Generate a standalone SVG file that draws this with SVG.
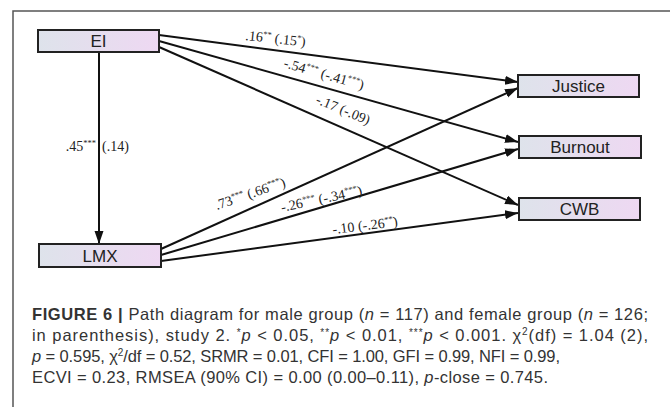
<svg xmlns="http://www.w3.org/2000/svg" width="670" height="407" viewBox="0 0 670 407">
<defs>
<linearGradient id="boxg" x1="0" y1="0" x2="1" y2="0">
<stop offset="0" stop-color="#dee3eb"/>
<stop offset="1" stop-color="#eed8f2"/>
</linearGradient>
<marker id="arr" markerUnits="userSpaceOnUse" markerWidth="14" markerHeight="10" refX="13" refY="4.5" orient="auto">
<path d="M0,0 L13,4.5 L0,9 z" fill="#111"/>
</marker>
<style>
.box{fill:url(#boxg);stroke:#222;stroke-width:2}
.bt{font-family:"Liberation Sans",Arial,sans-serif;font-size:17px;fill:#222;text-anchor:middle}
.edge{stroke:#111;stroke-width:2;fill:none;marker-end:url(#arr)}
.lbl{font-family:"Liberation Serif","Times New Roman",serif;font-size:14px;fill:#222}
.sup{font-size:8.5px}
.cap{font-family:"Liberation Sans",Arial,sans-serif;font-size:16.5px;fill:#333}
.frame{stroke:#555;stroke-width:1.5;fill:none}
</style>
</defs>
<path class="frame" d="M670,11 L13,11 L13,407"/>
<g id="connectors">
<path class="edge" d="M99,52 L99,244"/>
<path class="edge" d="M159,35 L518,82"/>
<path class="edge" d="M159,41 L518,142"/>
<path class="edge" d="M159,47 L518,205"/>
<path class="edge" d="M161,249 L518,88"/>
<path class="edge" d="M161,255 L518,149"/>
<path class="edge" d="M161,261 L518,213"/>
</g>
<g id="labels">
<text class="lbl" transform="translate(245,40) rotate(6)">.16<tspan class="sup" dy="-5">**</tspan><tspan dy="5"> (.15</tspan><tspan class="sup" dy="-5">*</tspan><tspan dy="5">)</tspan></text>
<text class="lbl" transform="translate(283,67) rotate(16)">-.54<tspan class="sup" dy="-5">***</tspan><tspan dy="5"> (-.41</tspan><tspan class="sup" dy="-5">***</tspan><tspan dy="5">)</tspan></text>
<text class="lbl" transform="translate(315,103) rotate(22.5)">-.17 (-.09)</text>
<text class="lbl" x="96" y="151" text-anchor="end">.45<tspan class="sup" dy="-5">***</tspan></text>
<text class="lbl" x="102" y="151">(.14)</text>
<text class="lbl" transform="translate(217,210) rotate(-19)">.73<tspan class="sup" dy="-5">***</tspan><tspan dy="5"> (.66</tspan><tspan class="sup" dy="-5">***</tspan><tspan dy="5">)</tspan></text>
<text class="lbl" transform="translate(282,212) rotate(-12)">-.26<tspan class="sup" dy="-5">***</tspan><tspan dy="5"> (-.34</tspan><tspan class="sup" dy="-5">***</tspan><tspan dy="5">)</tspan></text>
<text class="lbl" transform="translate(333,234) rotate(-7)">-.10 (-.26<tspan class="sup" dy="-5">**</tspan><tspan dy="5">)</tspan></text>
</g>
<g id="EI"><rect class="box" x="38" y="30" width="121" height="22"/><text class="bt" x="98.5" y="47">EI</text></g>
<g id="LMX"><rect class="box" x="39" y="244" width="122" height="23"/><text class="bt" x="100" y="261.5">LMX</text></g>
<g id="Justice"><rect class="box" x="518" y="75" width="121" height="22"/><text class="bt" x="578.5" y="92">Justice</text></g>
<g id="Burnout"><rect class="box" x="519" y="136" width="122" height="22"/><text class="bt" x="580" y="153">Burnout</text></g>
<g id="CWB"><rect class="box" x="519" y="198" width="121" height="22"/><text class="bt" x="579.5" y="215">CWB</text></g>
<g id="caption">
<text class="cap" x="32" y="320" textLength="616" lengthAdjust="spacing"><tspan font-weight="bold">FIGURE 6 | </tspan>Path diagram for male group (<tspan font-style="italic">n</tspan> = 117) and female group (<tspan font-style="italic">n</tspan> = 126;</text>
<text class="cap" x="32" y="341" textLength="616" lengthAdjust="spacing">in parenthesis), study 2. <tspan font-size="10" dy="-5">*</tspan><tspan font-style="italic" dy="5">p</tspan> &lt; 0.05, <tspan font-size="10" dy="-5">**</tspan><tspan font-style="italic" dy="5">p</tspan> &lt; 0.01, <tspan font-size="10" dy="-5">***</tspan><tspan font-style="italic" dy="5">p</tspan> &lt; 0.001. χ<tspan font-size="10" dy="-6">2</tspan><tspan dy="6">(df) = 1.04 (2),</tspan></text>
<text class="cap" x="32" y="362" textLength="528" lengthAdjust="spacing"><tspan font-style="italic">p</tspan> = 0.595, χ<tspan font-size="10" dy="-6">2</tspan><tspan dy="6">/df = 0.52, SRMR = 0.01, CFI = 1.00, GFI = 0.99, NFI = 0.99,</tspan></text>
<text class="cap" x="32" y="383" textLength="516" lengthAdjust="spacing">ECVI = 0.23, RMSEA (90% CI) = 0.00 (0.00–0.11), <tspan font-style="italic">p</tspan>-close = 0.745.</text>
</g>
</svg>
